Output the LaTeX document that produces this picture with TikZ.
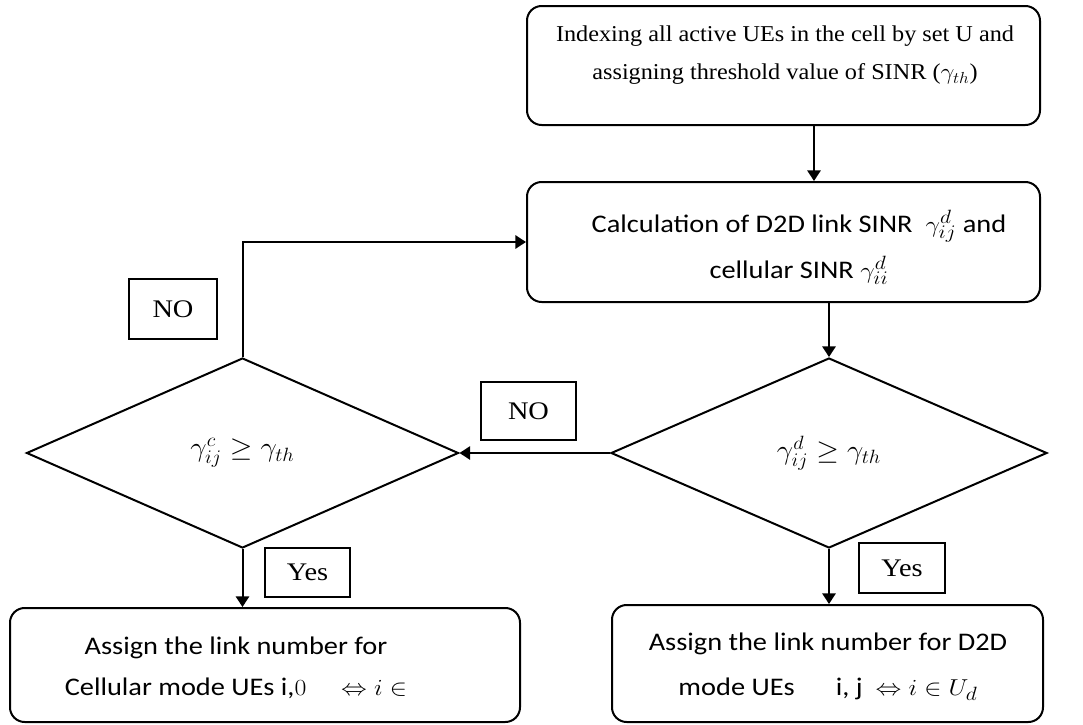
\documentclass[tikz,border=0pt]{standalone}
\usepackage{fontspec}
\usepackage{graphicx}
\setmainfont{Liberation Serif}
\newfontfamily\calfont{Carlito}
\usetikzlibrary{shapes.geometric,arrows.meta,fit}

% horizontally widened, centred block of lines
\newcommand\widetext[2][1.12]{\scalebox{#1}[1]{\begin{tabular}{@{}c@{}}#2\end{tabular}}}

\begin{document}
\begin{tikzpicture}[x=0.75pt,y=-0.75pt,
  proc/.style={draw, line width=1.5pt, rounded corners=11pt, inner sep=0pt},
  decision/.style={draw, diamond, line width=1.5pt, inner sep=0pt,
    minimum width=324pt, minimum height=142.5pt},
  tag/.style={draw, line width=1.1pt, inner sep=0pt},
  serifbig/.style={font=\fontsize{17}{28.5}\selectfont},
  tagfont/.style={font=\fontsize{19}{22}\selectfont},
  arr/.style={line width=1.5pt, -{Triangle[length=8pt,width=10pt]}}]
\useasboundingbox (0,0) rectangle (1083,725);

% process boxes
\node[proc, fit={(527,6) (1040,125)}] (b1) {};
\node[proc, fit={(527,182) (1040,302)}] (b2) {};
\node[proc, fit={(10,608) (520,722)}] (b3) {};
\node[proc, fit={(612,605) (1043,722)}] (b4) {};

% box texts
\node[serifbig] (t1) at (785,53) {\widetext[1.07]{Indexing all active UEs in the cell by set U and\\
  assigning threshold value of SINR ($\gamma_{th}$)}};
\node[font=\calfont\fontsize{19}{34.5}\selectfont] (t2) at (799,246)
  {\widetext{Calculation of D2D link SINR \ $\gamma_{ij}^{d}$ and\\ cellular SINR $\gamma_{ii}^{d}$}};
\node[font=\calfont\fontsize{19}{30.75}\selectfont] (t3) at (236,667)
  {\widetext{Assign the link number for\\ Cellular mode UEs i,$0$ \quad $\Leftrightarrow i\in$}};
\node[font=\calfont\fontsize{19}{33.75}\selectfont] (t4) at (828,664)
  {\widetext{Assign the link number for D2D\\ mode UEs \quad\ i, j \ $\Leftrightarrow i\in U_d$}};

% decisions
\node[decision, font=\fontsize{21}{24}\selectfont] (d1) at (242.5,453)
  {\scalebox{1.05}[1]{$\gamma_{ij}^{c}\geq\gamma_{th}$}};
\node[decision, minimum width=327pt, font=\fontsize{21}{24}\selectfont] (d2) at (829,453)
  {\scalebox{1.05}[1]{$\gamma_{ij}^{d}\geq\gamma_{th}$}};

% branch labels
\node[tag, fit={(129,279) (217,339)}] (no1) {};
\node[tagfont] at (no1.center) {\scalebox{1.12}[1]{NO}};
\node[tag, fit={(481,382) (576,440)}] (no2) {};
\node[tagfont] at (no2.center) {\scalebox{1.12}[1]{NO}};
\node[tag, fit={(265,548) (350,597)}] (yes1) {};
\node[tagfont] at (yes1.center) {\scalebox{1.12}[1]{Yes}};
\node[tag, fit={(859,543) (945,593)}] (yes2) {};
\node[tagfont] at (yes2.center) {\scalebox{1.12}[1]{Yes}};

% connectors
\coordinate (c1) at (814,0);
\draw[arr] (c1 |- b1.south) -- (c1 |- b2.north);
\draw[arr] (d2.north |- b2.south) -- (d2.north);
\draw[arr] (d2.west) -- (d1.east);
\draw[arr] (d1.north) |- (b2.west);
\draw[arr] (d1.south) -- (d1.south |- b3.north);
\draw[arr] (d2.south) -- (d2.south |- b4.north);
\end{tikzpicture}
\end{document}
